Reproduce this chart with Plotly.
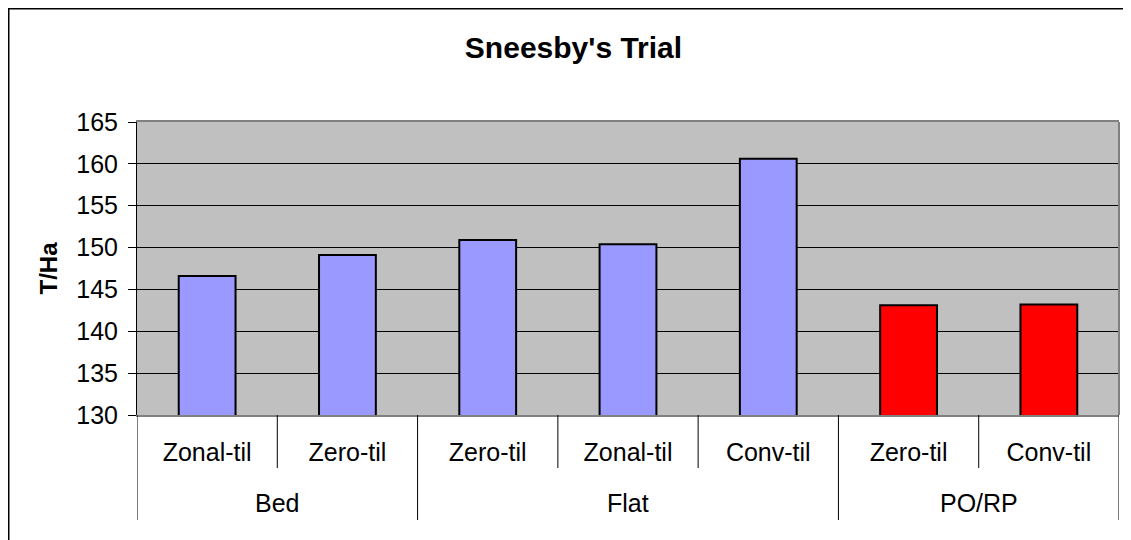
import plotly.graph_objects as go

# ---- data ----
groups = ["Bed", "Bed", "Flat", "Flat", "Flat", "PO/RP", "PO/RP"]
subcats = ["Zonal-til", "Zero-til", "Zero-til", "Zonal-til", "Conv-til", "Zero-til", "Conv-til"]
values = [146.6, 149.1, 150.9, 150.4, 160.6, 143.1, 143.2]
y_ticks = [130, 135, 140, 145, 150, 155, 160, 165]

FONT = "Liberation Sans, Arial, sans-serif"
# page has an 8px body margin; the figure starts at (8, 8) in the window
W, H = 1123, 532
L, R, T, B = 129, 12, 114, 125
pw, ph = W - L - R, H - T - B

n = len(values)
idx = list(range(n))
bar_colors = ["#FF0000" if g == "PO/RP" else "#9999FF" for g in groups]

fig = go.Figure(
    go.Bar(
        x=idx,
        y=values,
        marker=dict(color=bar_colors, line=dict(color="black", width=2)),
        width=0.405,
    )
)

def px_x(p):
    return (p - L) / pw

def px_y(p):
    return (H - B - p) / ph

# outer chart border: only its left and top edges fall inside the window
bx0, by0 = px_x(0.75), px_y(0.75)
bx1, by1 = px_x(W - 1), px_y(H + 50)
shapes = [
    dict(type="path", xref="paper", yref="paper",
         path=f"M {bx0},{by1} L {bx0},{by0} L {bx1},{by0}",
         line=dict(color="black", width=1.5), layer="below"),
    # right edge of plot area
    dict(type="line", xref="paper", yref="paper", x0=1, x1=1, y0=0, y1=1,
         line=dict(color="#808080", width=2)),
]

# category separators below the axis
SUB_LEN, GRP_LEN = 53, 105
for i in range(n + 1):
    is_group_edge = i == 0 or i == n or groups[i] != groups[i - 1]
    length = GRP_LEN if is_group_edge else SUB_LEN
    shapes.append(dict(type="line", xref="x", yref="paper",
                       x0=i - 0.5, x1=i - 0.5, y0=0, y1=-length / ph,
                       line=dict(color="black", width=1)))

# group labels
annotations = []
seen = []
for g in groups:
    if g not in seen:
        seen.append(g)
for g in seen:
    members = [i for i, gg in enumerate(groups) if gg == g]
    annotations.append(dict(
        x=sum(members) / len(members), xref="x",
        y=-88 / ph, yref="paper", yanchor="middle", xanchor="center",
        text=g, showarrow=False,
        font=dict(family=FONT, size=25, color="black"),
    ))

fig.update_layout(
    width=W,
    height=H,
    margin=dict(l=L, r=R, t=T, b=B, autoexpand=False),
    paper_bgcolor="white",
    plot_bgcolor="#C0C0C0",
    showlegend=False,
    font=dict(family=FONT, size=25, color="black"),
    title=dict(
        text="<b>Sneesby's Trial</b>",
        font=dict(family=FONT, size=30, color="black"),
        x=px_x(565.5), xref="paper", xanchor="center",
        y=1 - 39 / H, yref="container", yanchor="middle",
    ),
    shapes=shapes,
    annotations=annotations,
)

fig.update_xaxes(
    type="linear",
    range=[-0.5, n - 0.5],
    tickvals=idx,
    ticktext=subcats,
    showgrid=False,
    zeroline=False,
    showline=True, linecolor="#808080", linewidth=2, mirror=True,
    ticks="",
    ticklabelstandoff=14,
    tickfont=dict(family=FONT, size=25, color="black"),
    automargin=False,
)

fig.update_yaxes(
    range=[130, 165],
    tickvals=y_ticks,
    showgrid=True, gridcolor="black", gridwidth=1,
    showline=True, linecolor="black", linewidth=1,
    ticks="outside", ticklen=8, tickcolor="black", tickwidth=1,
    ticklabelstandoff=5,
    tickfont=dict(family=FONT, size=25, color="black"),
    title=dict(text="<b>T/Ha</b>", font=dict(family=FONT, size=24, color="black"), standoff=11),
    zeroline=False,
    automargin=False,
)

fig.write_html("out.html")
